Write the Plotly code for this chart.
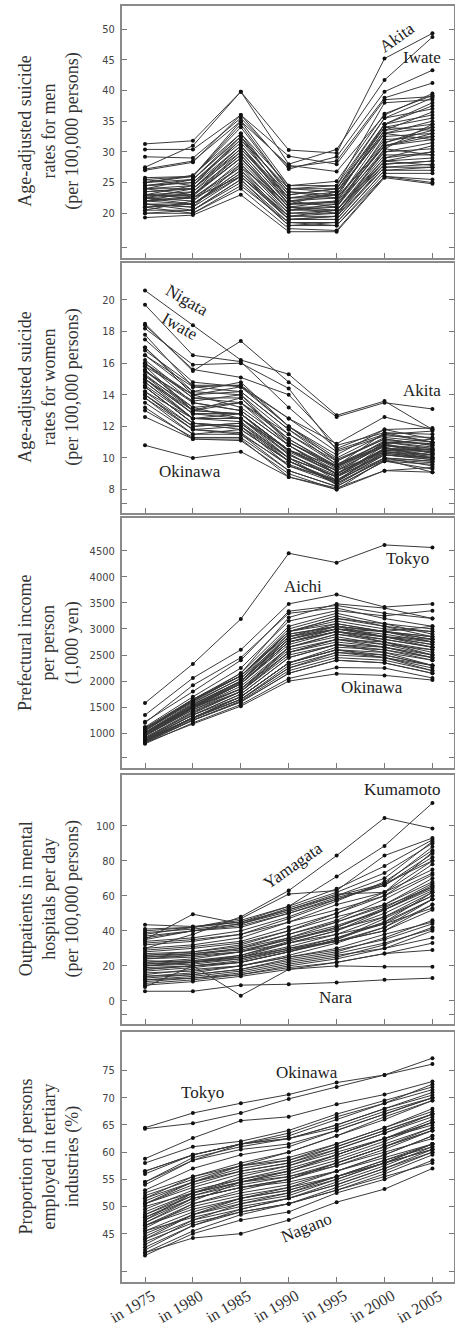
import plotly.graph_objects as go

W, H = 455, 1326

years = ["in 1975", "in 1980", "in 1985", "in 1990", "in 1995", "in 2000", "in 2005"]

prefectures = [
    "Hokkaido", "Aomori", "Iwate", "Miyagi", "Akita", "Yamagata", "Fukushima",
    "Ibaraki", "Tochigi", "Gunma", "Saitama", "Chiba", "Tokyo", "Kanagawa",
    "Niigata", "Toyama", "Ishikawa", "Fukui", "Yamanashi", "Nagano", "Gifu",
    "Shizuoka", "Aichi", "Mie", "Shiga", "Kyoto", "Osaka", "Hyogo", "Nara",
    "Wakayama", "Tottori", "Shimane", "Okayama", "Hiroshima", "Yamaguchi",
    "Tokushima", "Kagawa", "Ehime", "Kochi", "Fukuoka", "Saga", "Nagasaki",
    "Kumamoto", "Oita", "Miyazaki", "Kagoshima", "Okinawa",
]

# Age-adjusted suicide rates for men (per 100,000)
suicide_men = [
    [24.5, 25.0, 31.5, 23.0, 24.0, 34.0, 35.5],
    [27.0, 28.3, 36.0, 27.2, 29.2, 39.8, 43.3],
    [31.3, 31.8, 39.8, 28.0, 30.4, 41.7, 48.7],
    [22.5, 22.0, 28.5, 20.5, 21.0, 32.5, 33.0],
    [27.5, 31.0, 39.8, 30.3, 29.8, 45.2, 49.3],
    [25.5, 26.0, 34.5, 24.0, 24.5, 35.5, 38.8],
    [24.0, 24.5, 32.0, 22.5, 23.0, 33.5, 36.5],
    [22.0, 23.5, 29.5, 21.0, 20.5, 30.0, 30.5],
    [23.5, 24.0, 30.5, 22.0, 22.5, 31.5, 33.5],
    [22.8, 23.0, 30.0, 21.5, 21.8, 31.0, 32.0],
    [20.5, 20.5, 25.5, 18.0, 18.5, 27.0, 27.5],
    [21.0, 21.5, 26.5, 19.0, 19.0, 27.5, 28.0],
    [23.0, 22.5, 26.0, 19.5, 20.0, 28.5, 27.8],
    [20.0, 20.0, 24.0, 17.5, 17.2, 26.0, 25.5],
    [29.2, 29.0, 35.5, 27.5, 28.5, 38.8, 41.2],
    [25.0, 26.2, 33.0, 24.5, 25.2, 36.2, 39.2],
    [22.0, 22.8, 29.0, 20.5, 21.5, 31.0, 33.0],
    [23.0, 24.5, 31.0, 22.0, 21.0, 30.5, 34.5],
    [24.0, 25.5, 32.5, 23.5, 22.5, 34.5, 37.5],
    [21.5, 21.0, 28.0, 20.0, 20.5, 29.5, 29.5],
    [22.5, 23.0, 29.0, 21.0, 20.0, 29.0, 31.0],
    [21.0, 21.5, 27.0, 19.0, 19.5, 28.5, 29.0],
    [21.5, 20.5, 25.0, 18.0, 18.0, 26.5, 26.5],
    [22.0, 22.5, 27.5, 19.5, 20.5, 29.0, 30.0],
    [20.0, 20.5, 25.5, 18.5, 18.5, 27.0, 27.0],
    [21.0, 20.0, 24.5, 18.5, 18.0, 26.0, 25.0],
    [22.5, 21.5, 26.5, 19.5, 19.5, 30.5, 29.5],
    [21.5, 21.5, 26.0, 19.0, 19.0, 28.0, 28.5],
    [19.3, 19.7, 23.0, 17.0, 17.0, 25.8, 24.8],
    [23.5, 24.0, 30.0, 21.5, 22.0, 32.0, 32.5],
    [24.5, 25.0, 32.0, 24.0, 23.5, 33.0, 34.0],
    [27.2, 28.5, 35.0, 27.8, 26.8, 36.0, 39.5],
    [22.0, 21.5, 27.0, 20.0, 20.0, 28.0, 28.5],
    [21.5, 21.0, 26.0, 19.0, 19.5, 27.5, 27.5],
    [23.0, 23.5, 30.5, 22.5, 22.5, 31.0, 32.5],
    [22.5, 24.0, 31.0, 21.5, 21.5, 30.0, 31.5],
    [22.0, 22.5, 28.0, 20.5, 20.5, 28.5, 30.0],
    [23.0, 23.0, 29.5, 21.0, 21.0, 31.5, 34.0],
    [25.8, 26.0, 35.0, 24.5, 24.5, 38.0, 38.5],
    [24.0, 23.0, 29.0, 21.0, 22.0, 33.0, 32.0],
    [24.5, 25.5, 32.5, 23.5, 23.0, 34.0, 33.5],
    [25.0, 25.5, 33.0, 23.0, 24.0, 34.5, 36.0],
    [24.0, 24.0, 31.0, 22.5, 23.5, 33.0, 35.0],
    [25.5, 24.5, 32.5, 22.0, 23.0, 33.5, 34.5],
    [30.4, 30.4, 36.0, 29.3, 28.0, 38.5, 39.0],
    [25.0, 26.0, 34.0, 24.0, 24.0, 35.5, 37.0],
    [20.5, 22.0, 27.5, 21.5, 23.5, 34.5, 38.0],
]

# Age-adjusted suicide rates for women (per 100,000)
suicide_women = [
    [15.0, 13.0, 12.8, 10.5, 9.2, 10.8, 10.5],
    [16.0, 14.0, 14.5, 12.5, 10.9, 12.6, 11.8],
    [19.7, 16.5, 16.1, 13.2, 10.6, 11.8, 11.9],
    [15.5, 13.5, 13.0, 10.8, 9.0, 10.5, 10.2],
    [18.5, 15.5, 17.4, 14.8, 12.6, 13.5, 13.1],
    [17.5, 14.8, 14.5, 12.0, 10.0, 11.5, 11.0],
    [16.5, 14.2, 14.0, 11.5, 9.8, 11.2, 10.8],
    [15.2, 13.2, 13.5, 10.8, 9.2, 10.8, 10.3],
    [16.0, 13.8, 13.8, 11.2, 9.5, 11.0, 10.9],
    [15.8, 14.0, 13.2, 11.0, 9.4, 10.9, 11.2],
    [14.0, 11.8, 12.0, 9.5, 8.4, 10.0, 9.8],
    [14.2, 12.0, 12.2, 9.8, 8.5, 10.2, 10.0],
    [15.5, 13.2, 12.5, 10.5, 9.5, 11.6, 11.5],
    [13.5, 11.5, 11.5, 9.2, 8.2, 9.8, 9.6],
    [20.6, 18.4, 16.2, 15.3, 12.7, 13.6, 11.8],
    [18.2, 15.9, 16.0, 14.4, 10.5, 11.5, 11.7],
    [16.8, 14.6, 14.6, 12.0, 9.8, 11.3, 11.0],
    [17.0, 14.0, 14.2, 11.8, 9.6, 11.0, 10.6],
    [16.2, 13.8, 13.5, 11.5, 9.6, 10.8, 10.5],
    [17.8, 14.5, 14.2, 11.8, 9.9, 11.2, 10.8],
    [16.0, 13.5, 13.0, 10.8, 9.0, 10.5, 10.4],
    [15.0, 12.5, 12.5, 10.0, 8.8, 10.3, 10.0],
    [14.5, 12.2, 11.8, 9.8, 8.5, 10.2, 9.9],
    [15.2, 12.8, 12.8, 10.2, 8.9, 10.4, 10.1],
    [14.8, 12.5, 12.3, 10.0, 8.3, 10.0, 9.5],
    [15.8, 13.0, 12.8, 10.5, 9.0, 11.0, 10.7],
    [14.5, 12.2, 12.0, 10.0, 8.8, 10.8, 10.6],
    [14.8, 12.5, 12.5, 10.2, 8.8, 10.6, 10.4],
    [13.2, 11.2, 11.1, 9.0, 8.0, 9.9, 9.1],
    [15.6, 13.0, 13.8, 11.0, 9.3, 10.9, 10.3],
    [17.0, 14.2, 14.8, 12.0, 10.2, 11.8, 11.2],
    [18.4, 15.6, 15.1, 14.0, 10.8, 11.6, 11.0],
    [15.0, 12.8, 12.8, 10.5, 9.0, 10.6, 10.5],
    [14.5, 12.2, 12.0, 9.8, 8.6, 10.4, 10.2],
    [15.3, 13.0, 13.5, 11.2, 9.4, 11.1, 10.9],
    [15.5, 13.6, 14.0, 11.0, 9.5, 10.7, 10.0],
    [15.0, 12.8, 12.5, 10.3, 8.6, 10.3, 10.0],
    [14.2, 12.5, 12.8, 10.4, 9.0, 10.6, 10.5],
    [16.5, 14.5, 14.6, 12.5, 10.4, 11.4, 11.3],
    [14.0, 11.8, 11.5, 9.6, 8.5, 10.6, 10.2],
    [14.6, 12.5, 12.5, 10.5, 9.2, 10.4, 10.0],
    [13.8, 11.5, 11.8, 9.8, 8.4, 9.9, 9.7],
    [14.0, 12.0, 12.2, 10.0, 8.8, 10.2, 9.9],
    [13.8, 11.8, 11.6, 9.5, 8.6, 10.0, 9.8],
    [13.0, 11.3, 11.3, 9.2, 8.2, 9.8, 9.3],
    [12.6, 11.2, 11.2, 8.8, 8.1, 9.2, 9.1],
    [10.8, 10.0, 10.4, 8.8, 8.0, 9.2, 9.4],
]

# Prefectural income per person (1,000 yen)
income = [
    [1000, 1500, 1850, 2600, 2800, 2650, 2450],
    [850, 1250, 1600, 2150, 2400, 2350, 2150],
    [860, 1300, 1650, 2250, 2550, 2500, 2300],
    [960, 1450, 1800, 2650, 2900, 2750, 2550],
    [870, 1300, 1650, 2250, 2500, 2450, 2250],
    [880, 1350, 1700, 2350, 2650, 2600, 2400],
    [920, 1420, 1800, 2550, 2800, 2700, 2600],
    [1000, 1520, 1980, 2850, 3000, 2950, 2850],
    [1050, 1600, 2050, 2950, 3150, 3000, 2950],
    [1020, 1550, 2000, 2900, 3050, 2950, 2800],
    [1080, 1620, 2100, 3000, 3250, 3050, 2850],
    [1100, 1650, 2150, 3050, 3300, 3100, 2900],
    [1580, 2330, 3190, 4450, 4270, 4610, 4560],
    [1220, 1800, 2400, 3340, 3450, 3300, 3200],
    [950, 1480, 1850, 2650, 2900, 2800, 2650],
    [1050, 1650, 2100, 2950, 3200, 3100, 3000],
    [1020, 1580, 2050, 2850, 3100, 2950, 2850],
    [1000, 1520, 2000, 2850, 3050, 2950, 2800],
    [950, 1480, 1950, 2750, 2950, 2850, 2700],
    [980, 1530, 1950, 2800, 3000, 2900, 2750],
    [1000, 1550, 2000, 2800, 3000, 2850, 2750],
    [1120, 1700, 2250, 3150, 3350, 3250, 3350],
    [1350, 2060, 2600, 3480, 3660, 3420, 3480],
    [1000, 1560, 2000, 2800, 3050, 2950, 3050],
    [1050, 1620, 2150, 3220, 3480, 3400, 3200],
    [1080, 1620, 2100, 2950, 3100, 2950, 2750],
    [1200, 1920, 2450, 3300, 3400, 3200, 3050],
    [1100, 1650, 2100, 2900, 3050, 2850, 2700],
    [960, 1500, 1950, 2750, 2950, 2750, 2500],
    [950, 1450, 1850, 2550, 2750, 2650, 2450],
    [880, 1350, 1750, 2450, 2700, 2550, 2300],
    [840, 1300, 1700, 2350, 2600, 2500, 2300],
    [1000, 1500, 1950, 2750, 2950, 2800, 2650],
    [1060, 1650, 2100, 2950, 3200, 3050, 2950],
    [1000, 1500, 1950, 2700, 2950, 2850, 2800],
    [900, 1400, 1800, 2550, 2800, 2750, 2600],
    [1000, 1500, 1950, 2750, 3000, 2850, 2650],
    [920, 1380, 1800, 2500, 2700, 2600, 2450],
    [850, 1280, 1650, 2300, 2550, 2450, 2200],
    [980, 1480, 1900, 2650, 2850, 2700, 2500],
    [880, 1300, 1700, 2350, 2600, 2550, 2400],
    [830, 1250, 1620, 2200, 2450, 2400, 2200],
    [860, 1300, 1700, 2350, 2600, 2450, 2300],
    [900, 1350, 1750, 2450, 2700, 2650, 2500],
    [820, 1250, 1600, 2150, 2400, 2350, 2150],
    [800, 1200, 1550, 2050, 2260, 2250, 2060],
    [820, 1180, 1520, 2000, 2140, 2110, 2020],
]

# Outpatients in mental hospitals per day (per 100,000)
outpatients = [
    [30, 32, 36, 45, 55, 62, 75],
    [20, 22, 25, 33, 40, 52, 65],
    [18, 20, 22, 28, 35, 45, 62],
    [22, 24, 28, 36, 45, 55, 70],
    [15, 18, 20, 26, 33, 42, 58],
    [30, 38, 48, 63, 83, 104.5, 98.5],
    [17, 19, 22, 28, 35, 47, 60],
    [12, 14, 17, 22, 26, 30, 40],
    [14, 16, 20, 25, 30, 38, 45],
    [20, 22, 26, 33, 40, 50, 63],
    [10, 12, 15, 20, 24, 30, 36],
    [11, 13, 16, 21, 25, 32, 42],
    [25, 26, 30, 38, 46, 58, 72],
    [13, 15, 18, 24, 28, 36, 46],
    [24, 25, 28, 35, 42, 52, 64],
    [28, 30, 33, 40, 48, 55, 68],
    [35, 40, 42, 50, 58, 66, 82],
    [22, 23, 25, 30, 34, 40, 55],
    [23, 22, 24, 30, 36, 44, 58],
    [18, 20, 22, 28, 34, 42, 55],
    [12, 13, 15, 19, 22, 27, 33],
    [16, 17, 20, 25, 29, 35, 44],
    [14, 15, 18, 23, 27, 33, 41],
    [20, 21, 24, 29, 34, 40, 52],
    [9, 11, 14, 18, 22, 27, 29],
    [26, 28, 32, 40, 50, 62, 85],
    [21, 23, 26, 34, 42, 53, 67],
    [19, 20, 23, 29, 36, 45, 58],
    [5.5, 5.5, 9, 9.5, 10.5, 12, 13],
    [24, 26, 28, 33, 38, 44, 53],
    [38, 42, 45, 52, 60, 67, 80],
    [33, 35, 38, 45, 52, 60, 73],
    [29, 31, 34, 42, 50, 60, 78],
    [25, 27, 30, 36, 43, 52, 66],
    [27, 28, 31, 38, 45, 54, 65],
    [36, 40, 44, 53, 62, 73, 90],
    [26, 27, 29, 35, 41, 48, 62],
    [21, 22, 25, 31, 38, 48, 60],
    [40, 42, 46, 54, 64, 77, 92],
    [32, 34, 38, 47, 57, 68, 86],
    [37, 40, 43, 50, 59, 66, 84],
    [34, 36, 40, 48, 58, 67, 88],
    [43.5, 42.5, 45, 54, 71, 88.5, 113],
    [39, 41, 44, 51, 60, 70, 91],
    [35, 49.5, 44, 52, 61, 62, 80],
    [41, 42, 47, 61, 63, 83, 93],
    [8, 20, 3, 18, 20, 19.5, 19.5],
]

# Proportion of persons employed in tertiary industries (%)
tertiary = [
    [56.5, 59.5, 61.5, 63.5, 66.5, 69.0, 71.5],
    [47.0, 51.0, 54.5, 56.5, 59.5, 62.5, 65.5],
    [41.5, 45.5, 48.5, 50.5, 53.5, 56.5, 60.0],
    [50.5, 54.5, 57.5, 60.0, 63.0, 66.0, 69.5],
    [42.5, 46.5, 49.5, 51.5, 54.5, 57.5, 61.0],
    [41.0, 45.0, 47.5, 49.0, 52.5, 55.0, 58.5],
    [42.0, 46.5, 49.0, 50.5, 53.0, 56.0, 59.5],
    [43.0, 47.5, 50.5, 52.5, 55.0, 58.0, 61.5],
    [44.0, 47.5, 49.5, 51.5, 54.0, 57.0, 60.5],
    [45.0, 48.5, 50.5, 52.0, 55.0, 58.0, 61.5],
    [52.0, 55.0, 57.5, 58.5, 61.5, 64.5, 68.0],
    [54.0, 58.5, 61.5, 63.0, 66.0, 69.0, 72.5],
    [64.5, 67.2, 69.0, 70.6, 72.8, 74.2, 77.3],
    [58.8, 62.6, 65.8, 66.5, 68.8, 70.6, 73.0],
    [44.5, 48.5, 51.0, 52.5, 55.5, 58.5, 61.5],
    [46.5, 49.5, 51.5, 53.0, 55.5, 58.5, 61.0],
    [50.5, 53.5, 56.0, 57.5, 60.0, 62.5, 65.0],
    [45.5, 49.0, 51.5, 53.0, 55.5, 58.0, 60.5],
    [46.0, 50.5, 52.5, 54.0, 56.5, 59.5, 63.0],
    [41.5, 44.2, 45.0, 47.5, 50.8, 53.2, 57.0],
    [45.5, 48.0, 50.0, 51.5, 54.0, 57.0, 60.0],
    [48.0, 51.5, 53.5, 54.5, 56.5, 59.0, 61.5],
    [50.0, 52.5, 54.5, 55.5, 57.5, 60.0, 62.5],
    [46.5, 50.0, 52.0, 53.5, 55.5, 58.0, 60.5],
    [43.5, 47.0, 49.0, 50.5, 53.0, 55.5, 58.0],
    [56.0, 59.5, 61.5, 62.5, 64.5, 67.5, 70.0],
    [56.5, 59.5, 61.5, 62.5, 65.0, 68.0, 71.0],
    [54.5, 58.5, 60.5, 61.5, 64.0, 67.0, 70.0],
    [54.5, 59.0, 61.0, 62.5, 65.0, 68.0, 70.5],
    [49.5, 53.0, 55.0, 57.0, 59.5, 62.5, 65.5],
    [46.5, 50.5, 53.0, 55.0, 58.0, 61.0, 64.5],
    [44.0, 48.5, 51.5, 53.5, 56.5, 59.5, 63.0],
    [49.0, 52.5, 54.5, 56.0, 58.5, 61.5, 64.5],
    [52.5, 55.5, 57.5, 59.0, 61.5, 64.5, 67.5],
    [51.0, 54.5, 57.0, 58.5, 61.0, 64.0, 67.0],
    [47.0, 51.5, 53.5, 55.0, 58.0, 61.0, 64.0],
    [51.5, 54.5, 56.5, 58.0, 60.5, 63.5, 66.5],
    [48.5, 52.0, 54.0, 55.5, 58.0, 61.0, 64.0],
    [51.5, 55.5, 58.0, 60.0, 63.0, 66.5, 69.5],
    [58.0, 61.0, 62.0, 64.0, 67.0, 69.5, 72.0],
    [47.5, 51.5, 53.5, 55.0, 57.5, 60.5, 64.0],
    [53.0, 57.0, 59.5, 61.0, 64.0, 67.0, 70.0],
    [48.5, 52.5, 55.0, 56.5, 59.5, 62.5, 66.0],
    [50.5, 54.0, 56.5, 58.0, 61.0, 64.0, 67.0],
    [48.0, 52.0, 54.5, 56.5, 59.0, 62.0, 65.5],
    [47.5, 52.5, 55.5, 57.5, 60.5, 63.5, 67.0],
    [64.3, 65.3, 67.2, 69.8, 72.0, 74.2, 76.2],
]

titles = [
    "Age-adjusted suicide<br>rates for men<br>(per 100,000 persons)",
    "Age-adjusted suicide<br>rates for women<br>(per 100,000 persons)",
    "Prefectural income<br>per person<br>(1,000 yen)",
    "Outpatients in mental<br>hospitals per day<br>(per 100,000 persons)",
    "Proportion of persons<br>employed in tertiary<br>industries (%)",
]

panel_data = [suicide_men, suicide_women, income, outpatients, tertiary]

# pixel boxes (top, bottom) for each panel
boxes_px = [(6, 257.5), (263, 512.5), (518, 768), (775, 1024), (1031.5, 1281.5)]
x_px = (122, 454)

y_ranges = [(12.8, 53.75), (6.55, 22.34), (335, 5126), (-13.2, 129), (36.2, 82.2)]
y_ticks = [
    [20, 25, 30, 35, 40, 45, 50],
    [8, 10, 12, 14, 16, 18, 20],
    [1000, 1500, 2000, 2500, 3000, 3500, 4000, 4500],
    [0, 20, 40, 60, 80, 100],
    [45, 50, 55, 60, 65, 70, 75],
]
# small unlabeled break tick near the bottom of each axis
y_break = [14.5, 7.1, 527, -7.5, 38.1]

labels = [
    [("Akita", 5.26, 48.6, -35), ("Iwate", 5.78, 45.3, 0)],
    [("Nigata", 0.88, 19.95, 30), ("Iwate", 0.73, 18.35, 30),
     ("Akita", 5.78, 14.25, 0), ("Okinawa", 0.94, 9.13, 0)],
    [("Tokyo", 5.47, 4341, 0), ("Aichi", 3.3, 3805, 0), ("Okinawa", 4.74, 1887, 0)],
    [("Kumamoto", 5.37, 120.5, 0), ("Yamagata", 3.09, 77.5, -35), ("Nara", 3.97, 1.7, 0)],
    [("Okinawa", 3.38, 74.6, 0), ("Tokyo", 1.21, 70.9, 0), ("Nagano", 3.38, 46.1, -22)],
]

SERIF = "Liberation Serif, Times New Roman, DejaVu Serif, serif"
NARROW = "Liberation Sans Narrow, DejaVu Sans Condensed, Arial Narrow, sans-serif"
BOXC = "#8a8a8a"

fig = go.Figure()
layout = dict(
    template="none",
    width=W, height=H, margin=dict(l=0, r=0, t=0, b=0, pad=0, autoexpand=False),
    paper_bgcolor="white", plot_bgcolor="white", showlegend=False,
    annotations=[],
)

n_panels = len(panel_data)
for i, data in enumerate(panel_data):
    n = i + 1
    xa = "x" if n == 1 else f"x{n}"
    ya = "y" if n == 1 else f"y{n}"
    for name, row in zip(prefectures, data):
        fig.add_trace(go.Scatter(
            x=years, y=row, name=name, mode="lines+markers",
            xaxis=xa, yaxis=ya,
            line=dict(color="#3a3a3a", width=1),
            marker=dict(color="#111111", size=4),
            hoverinfo="name+y",
        ))
    top, bot = boxes_px[i]
    ydom = [1 - bot / H, 1 - top / H]
    xdom = [x_px[0] / W, x_px[1] / W]
    layout["xaxis" if n == 1 else f"xaxis{n}"] = dict(
        domain=xdom, anchor=ya, type="category", automargin=False,
        range=[-0.48, 6.45], categoryorder="array", categoryarray=years,
        showline=True, linecolor=BOXC, linewidth=2, mirror=True,
        ticks="inside", ticklen=5, tickcolor="#777777", tickwidth=1,
        showgrid=False, zeroline=False, showticklabels=False,
    )
    tv = [y_break[i]] + y_ticks[i]
    tt = [""] + [str(v) for v in y_ticks[i]]
    layout["yaxis" if n == 1 else f"yaxis{n}"] = dict(
        domain=ydom, anchor=xa, range=list(y_ranges[i]), automargin=False,
        tickmode="array", tickvals=tv, ticktext=tt,
        showline=True, linecolor=BOXC, linewidth=2, mirror="allticks",
        ticks="inside", ticklen=5, tickcolor="#777777", tickwidth=1,
        ticklabelstandoff=3,
        showgrid=False, zeroline=False,
        tickfont=dict(family=NARROW, size=11, color="#444444"),
    )
    layout["annotations"].append(dict(
        text=titles[i], textangle=-90, xref="paper", yref="paper",
        x=49 / W, y=(ydom[0] + ydom[1]) / 2, xanchor="center", yanchor="middle",
        showarrow=False, font=dict(family=SERIF, size=18, color="#333333"),
    ))
    for (txt, lx, ly, ang) in labels[i]:
        layout["annotations"].append(dict(
            text=txt, x=lx, y=ly, xref=xa, yref=ya, textangle=ang,
            xanchor="center", yanchor="middle", showarrow=False,
            font=dict(family=SERIF, size=17, color="#222222"),
        ))
    if i == n_panels - 1:
        # rotated year labels under the bottom panel
        for yr in years:
            layout["annotations"].append(dict(
                text=yr, x=yr, xref=xa, y=1 - 1306 / H, yref="paper",
                xshift=-13, textangle=-30, xanchor="center", yanchor="middle",
                showarrow=False, font=dict(family=SERIF, size=16, color="#333333"),
            ))

fig.update_layout(**layout)
fig.write_html(
    "out.html",
    config={"displayModeBar": False},
    post_script="document.body.style.margin='0px';document.body.style.overflow='hidden';",
)
